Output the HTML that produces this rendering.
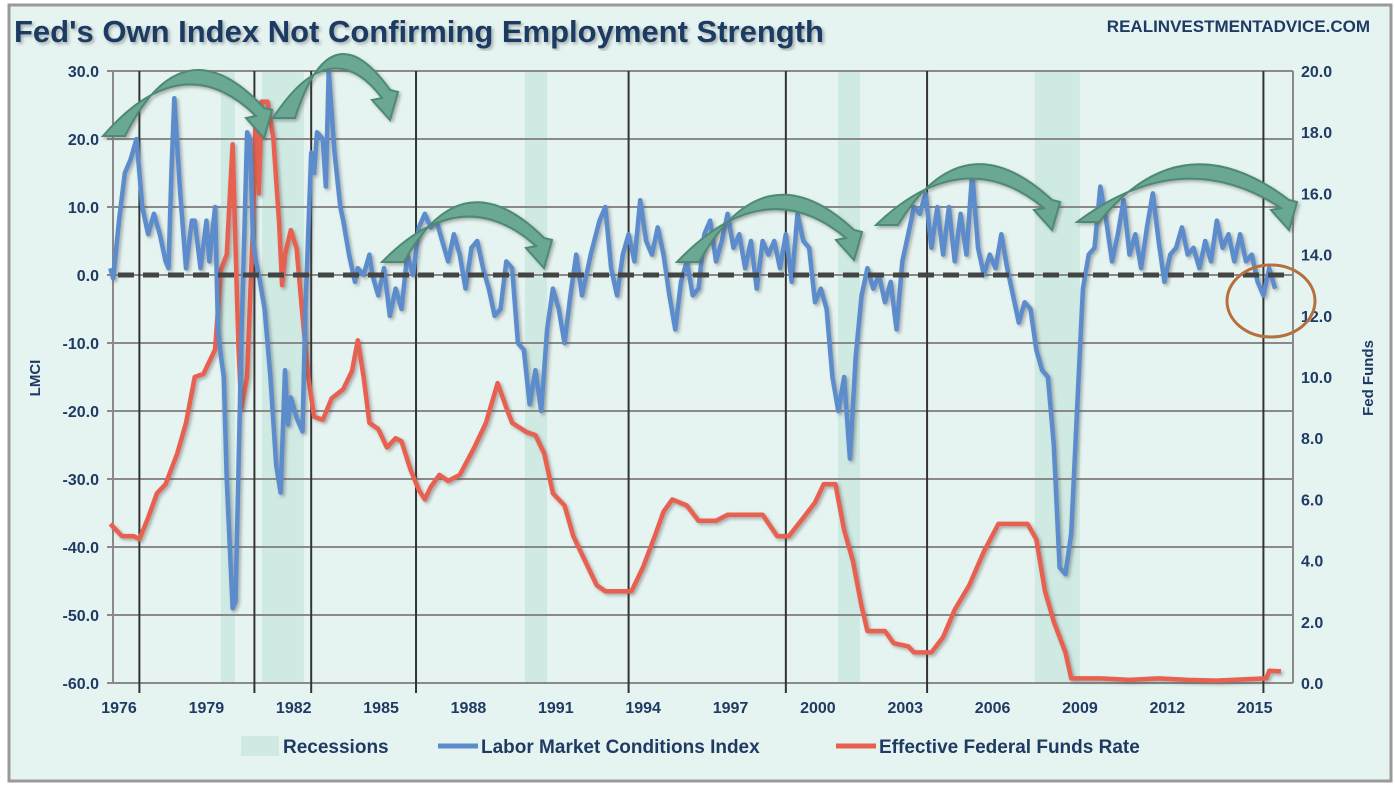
<!DOCTYPE html>
<html><head><meta charset="utf-8"><style>
body{margin:0;background:#fff;}
svg{display:block;font-family:"Liberation Sans",sans-serif;}
</style></head><body>
<svg width="1395" height="793" viewBox="0 0 1395 793">
<defs><filter id="sh" x="-5%" y="-5%" width="110%" height="110%"><feDropShadow dx="2" dy="2" stdDeviation="1.5" flood-color="#555" flood-opacity="0.45"/></filter></defs>
<rect x="9" y="5" width="1382" height="776" fill="#e5f4f1" stroke="#9a9a9a" stroke-width="3"/>
<text x="14" y="42" font-size="31" font-weight="bold" fill="#1f3a63" filter="url(#sh)">Fed's Own Index Not Confirming Employment Strength</text>
<text x="1370" y="32" font-size="17" font-weight="bold" fill="#1f3a63" text-anchor="end">REALINVESTMENTADVICE.COM</text>
<g id="rec"></g><g id="grid"></g><g id="vlines"></g><g id="axes"></g><g id="series"></g><g id="anno"></g>
<text transform="translate(40,378) rotate(-90)" font-size="15" font-weight="bold" fill="#1f3a63" text-anchor="middle">LMCI</text>
<text transform="translate(1373,378) rotate(-90)" font-size="15" font-weight="bold" fill="#1f3a63" text-anchor="middle">Fed Funds</text>
<g>
<rect x="241" y="736" width="38" height="20" fill="#cfe9e3"/>
<text x="283" y="753" font-size="19" font-weight="bold" fill="#1f3a63">Recessions</text>
<line x1="438" y1="746" x2="478" y2="746" stroke="#5b8ccc" stroke-width="5"/>
<text x="481" y="753" font-size="19" font-weight="bold" fill="#1f3a63">Labor Market Conditions Index</text>
<line x1="836" y1="746" x2="876" y2="746" stroke="#e8604f" stroke-width="5"/>
<text x="879" y="753" font-size="19" font-weight="bold" fill="#1f3a63">Effective Federal Funds Rate</text>
</g>
</svg>
<script>
const xTicks=[1976,1979,1982,1985,1988,1991,1994,1997,2000,2003,2006,2009,2012,2015];
const leftTicks=[30,20,10,0,-10,-20,-30,-40,-50,-60];
const rightTicks=[20,18,16,14,12,10,8,6,4,2,0];
const recessions=[[1979.5,1979.98],[1980.91,1982.35],[1989.94,1990.7],[2000.69,2001.45],[2007.45,2009.0]];
const markerYears=[1976.7,1980.65,1982.6,1986.2,1993.5,1998.9,2003.75,2015.3];
const lmciX=[1975.7,1975.8,1976.0,1976.2,1976.4,1976.6,1976.8,1977.0,1977.2,1977.4,1977.6,1977.7,1977.8,1977.9,1978.1,1978.3,1978.5,1978.6,1978.8,1979.0,1979.1,1979.3,1979.4,1979.5,1979.6,1979.7,1979.9,1980.0,1980.2,1980.4,1980.5,1980.6,1980.7,1980.8,1981.0,1981.2,1981.4,1981.55,1981.7,1981.8,1981.9,1982.1,1982.3,1982.4,1982.6,1982.7,1982.8,1983.0,1983.1,1983.2,1983.4,1983.6,1983.7,1983.9,1984.1,1984.2,1984.4,1984.6,1984.7,1984.9,1985.1,1985.3,1985.5,1985.7,1985.9,1986.1,1986.3,1986.5,1986.7,1986.9,1987.1,1987.3,1987.5,1987.7,1987.9,1988.1,1988.3,1988.5,1988.7,1988.9,1989.1,1989.3,1989.5,1989.7,1989.9,1990.1,1990.3,1990.5,1990.7,1990.9,1991.1,1991.3,1991.5,1991.7,1991.9,1992.2,1992.5,1992.7,1992.9,1993.1,1993.3,1993.5,1993.7,1993.9,1994.1,1994.3,1994.5,1994.7,1994.9,1995.1,1995.3,1995.5,1995.7,1995.9,1996.1,1996.3,1996.5,1996.7,1996.9,1997.1,1997.3,1997.5,1997.7,1997.9,1998.1,1998.3,1998.5,1998.7,1998.9,1999.1,1999.3,1999.5,1999.7,1999.9,2000.1,2000.3,2000.5,2000.7,2000.9,2001.1,2001.3,2001.5,2001.7,2001.9,2002.1,2002.3,2002.5,2002.7,2002.9,2003.1,2003.3,2003.5,2003.7,2003.9,2004.1,2004.3,2004.5,2004.7,2004.9,2005.1,2005.3,2005.5,2005.7,2005.9,2006.1,2006.3,2006.5,2006.7,2006.9,2007.1,2007.3,2007.5,2007.7,2007.9,2008.1,2008.3,2008.5,2008.7,2008.9,2009.1,2009.3,2009.5,2009.7,2009.9,2010.1,2010.3,2010.5,2010.7,2010.9,2011.1,2011.3,2011.5,2011.7,2011.9,2012.1,2012.3,2012.5,2012.7,2012.9,2013.1,2013.3,2013.5,2013.7,2013.9,2014.1,2014.3,2014.5,2014.7,2014.9,2015.1,2015.3,2015.5,2015.7];
const lmciY=[1,-0.5,8,15,17,20,10,6,9,6,2,1,15,26,12,1,8,8,1,8,2,10,-8,-12,-15,-30,-49,-48,-10,21,20,5,2,0,-5,-15,-28,-32,-14,-22,-18,-21,-23,-5,18,15,21,20,13,30,18,10,8,3,-1,1,0,3,0,-3,1,-6,-2,-5,3,0,7,9,7,8,5,2,6,3,-2,4,5,1,-2,-6,-5,2,1,-10,-11,-19,-14,-20,-8,-2,-5,-10,-3,3,-3,3,8,10,1,-3,3,6,2,11,5,3,7,3,-3,-8,-1,2,-3,-2,6,8,2,5,9,4,6,1,5,-2,5,3,5,1,6,-1,9,5,4,-4,-2,-5,-15,-20,-15,-27,-12,-3,1,-2,0,-4,-1,-8,2,6,10,9,12,4,10,3,10,2,9,3,15,4,0,3,1,6,1,-3,-7,-4,-5,-11,-14,-15,-25,-43,-44,-38,-20,-2,3,4,13,8,2,6,11,3,6,1,7,12,5,-1,3,4,7,3,4,1,5,2,8,4,6,2,6,2,3,-1,-3,1,-2];
const ffX=[1975.7,1976.1,1976.5,1976.7,1977.0,1977.3,1977.6,1978.0,1978.3,1978.6,1978.9,1979.3,1979.5,1979.7,1979.9,1980.1,1980.2,1980.4,1980.6,1980.7,1980.8,1980.9,1981.1,1981.3,1981.5,1981.6,1981.7,1981.9,1982.1,1982.3,1982.5,1982.7,1983.0,1983.3,1983.7,1984.0,1984.2,1984.4,1984.6,1984.9,1985.2,1985.5,1985.7,1986.0,1986.3,1986.5,1986.7,1987.0,1987.3,1987.7,1988.2,1988.6,1989.0,1989.3,1989.5,1990.0,1990.3,1990.6,1990.9,1991.3,1991.6,1992.0,1992.4,1992.7,1993.2,1993.6,1994.0,1994.4,1994.7,1995.0,1995.5,1995.9,1996.5,1996.9,1997.5,1998.1,1998.6,1999.0,1999.5,1999.9,2000.2,2000.6,2000.9,2001.2,2001.5,2001.7,2002.3,2002.6,2003.1,2003.3,2003.9,2004.3,2004.7,2005.2,2005.7,2006.2,2007.2,2007.5,2007.8,2008.1,2008.5,2008.7,2009.7,2010.7,2011.7,2012.7,2013.7,2014.7,2015.4,2015.5,2015.9];
const ffY=[5.2,4.8,4.8,4.7,5.4,6.2,6.5,7.5,8.5,10,10.1,10.9,13.5,14,17.6,11,9,10,15,19,16,19,19,17.8,15,13,14,14.8,14.2,12,10,8.7,8.6,9.3,9.6,10.2,11.2,10,8.5,8.3,7.7,8.0,7.9,7,6.3,6.0,6.4,6.8,6.6,6.8,7.7,8.5,9.8,9.0,8.5,8.2,8.1,7.5,6.2,5.8,4.8,4.0,3.2,3.0,3.0,3.0,3.8,4.8,5.6,6.0,5.8,5.3,5.3,5.5,5.5,5.5,4.8,4.8,5.4,5.9,6.5,6.5,5.0,4.0,2.5,1.7,1.7,1.3,1.2,1.0,1.0,1.5,2.4,3.2,4.3,5.2,5.2,4.7,3.0,2.0,1.0,0.15,0.15,0.1,0.15,0.1,0.08,0.12,0.15,0.4,0.38];

const NS="http://www.w3.org/2000/svg";
const L=113,R=1293,T=71,B=683;
const xs=y=>119+(y-1976)*29.12;
const yl=v=>B-(v+60)*(B-T)/90;
const yr=v=>B-v*(B-T)/20;
function mk(tag,attrs,parent){const e=document.createElementNS(NS,tag);for(const k in attrs)e.setAttribute(k,attrs[k]);document.getElementById(parent).appendChild(e);return e;}

recessions.forEach(r=>{
const e=mk('rect',{x:xs(r[0]),y:T,width:xs(r[1])-xs(r[0]),height:B-T,fill:'#cfe9e3'},'rec');


});
leftTicks.forEach(v=>{
const g=mk('line',{x1:L-6,x2:R,y1:yl(v),y2:yl(v),stroke:'#8a8a8a','stroke-width':2},'grid');


const t=mk('text',{x:L-14,y:yl(v)+6,'font-size':16,'font-weight':'bold',fill:'#1f3a63','text-anchor':'end'},'axes');
t.textContent=v.toFixed(1);


});
rightTicks.forEach(v=>{
const t=mk('text',{x:R+8,y:yr(v)+6,'font-size':16,'font-weight':'bold',fill:'#1f3a63'},'axes');
t.textContent=v.toFixed(1);


});
const ax=mk('line',{x1:L,x2:L,y1:T,y2:B,stroke:'#8a8a8a','stroke-width':2},'axes');


const ax2=mk('line',{x1:R,x2:R,y1:T,y2:B,stroke:'#8a8a8a','stroke-width':2},'axes');


xTicks.forEach(y=>{
const t=mk('text',{x:xs(y),y:713,'font-size':16,'font-weight':'bold',fill:'#1f3a63','text-anchor':'middle'},'axes');
t.textContent=y;


});
markerYears.forEach(y=>{
const e=mk('line',{x1:xs(y),x2:xs(y),y1:T,y2:B+10,stroke:'#333','stroke-width':2},'vlines');


});
function path(X,Y,f){return X.map((x,i)=>(i?'L':'M')+xs(x).toFixed(1)+','+f(Y[i]).toFixed(1)).join('');}
const ff=mk('path',{d:path(ffX,ffY,yr),fill:'none',stroke:'#e8604f','stroke-width':4.5,'stroke-linejoin':'round',filter:'url(#sh)'},'series');


const lm=mk('path',{d:path(lmciX,lmciY,yl),fill:'none',stroke:'#5b8ccc','stroke-width':4.5,'stroke-linejoin':'round',filter:'url(#sh)'},'series');


const z=mk('line',{x1:L+5,x2:R,y1:yl(0),y2:yl(0),stroke:'#444','stroke-width':5,'stroke-dasharray':'16,9'},'series');


const arrows=[[103,136,262,128,88],[273,118,388,110,72],[382,262,542,258,220],[677,262,852,250,213],[876,225,1050,220,182],[1077,222,1287,220,182]];
arrows.forEach(a=>{
const [x1,y1,x2,y2,peak]=a;const mx=(x1+x2)/2;
const c1=2*peak-(y1+y2)/2, c2=c1-24;
const d=`M${x1},${y1} Q${mx},${c1} ${x2-6},${y2-12} L${x2-16},${y2-10} L${x2+2},${y2+10} L${x2+10},${y2-18} L${x2+2},${y2-20} Q${mx},${c2} ${x1+22},${y1} Z`;
const e=mk('path',{d:d,fill:'#6aa893',stroke:'#4e8a75','stroke-width':2,filter:'url(#sh)'},'anno');


});
const c=mk('ellipse',{cx:1271,cy:301,rx:44,ry:36,fill:'none',stroke:'#b5703e','stroke-width':3},'anno');


</script>
</body></html>
